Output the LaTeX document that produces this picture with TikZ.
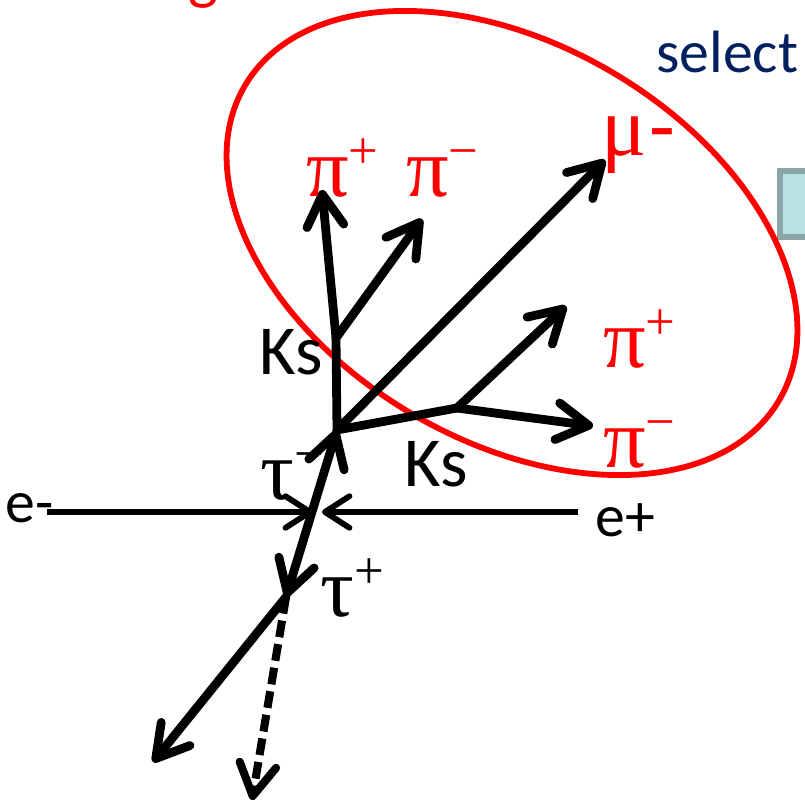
\documentclass[tikz,border=0pt]{standalone}
\usepackage{fontspec}
\setmainfont{Carlito}
\newfontfamily\grk{Liberation Serif}
\usepackage{tikz}
\usetikzlibrary{arrows.meta}
\definecolor{selblue}{HTML}{002060}
\definecolor{boxfill}{HTML}{BBE0E3}
\definecolor{boxline}{HTML}{8CA6A8}
\newcommand\chg[1]{\raisebox{16.5pt}{\fontsize{30}{30}\selectfont\grk #1}}

\begin{document}
\begin{tikzpicture}[x=0.02cm,y=-0.02cm,
  arr/.style={-{Straight Barb[length=18pt,width=21pt,round]}},
  trk/.style={line width=5pt,line cap=round},
  beam/.style={line width=3.3pt,-{Straight Barb[length=14pt,width=18pt,round]}},
  lbl/.style={inner sep=0,anchor=base west},
  grklbl/.style={lbl,red,font=\fontsize{48}{48}\selectfont\grk},
  kslbl/.style={lbl,font=\fontsize{40}{40}\selectfont},
  elbl/.style={lbl,font=\fontsize{34}{34}\selectfont}]
  \useasboundingbox (0,0) rectangle (805,803);
  \clip (0,0) rectangle (805,803);
  % slide pieces cut by the frame
  \node[lbl,red,font=\fontsize{36}{36}\selectfont] (sig) at (145,-2) {Signal side};
  \node[lbl,selblue,font=\fontsize{34}{34}\selectfont] (sel) at (656,73) {select};
  \draw[boxline,fill=boxfill,line width=3pt] (780,171) rectangle (840,237);
  \draw[red,line width=3.3pt,rotate around={-30.5:(512,243)}] (512,243) ellipse (310 and 198);
  % vertices and track ends
  \coordinate (vtx) at (337,430); \coordinate (wtx) at (286,597);
  \coordinate (ksa) at (336,338); \coordinate (ksb) at (457,408);
  \coordinate (pipa) at (322,190); \coordinate (pima) at (422,219);
  \coordinate (mu) at (605,160);
  \coordinate (pipb) at (566,306); \coordinate (pimb) at (593,426);
  \coordinate (dl) at (153,762); \coordinate (nu) at (252,800);
  \coordinate (em) at (47,512); \coordinate (ep) at (578,512);
  \coordinate (cem) at (313,512); \coordinate (cep) at (322,512);
  % beams
  \draw[beam] (em) -- (cem);
  \draw[beam] (ep) -- (cep);
  % tau pair
  \draw[trk,{Straight Barb[length=18pt,width=21pt,round]}-{Straight Barb[length=18pt,width=21pt,round]}] (wtx) -- (vtx);
  % signal side
  \draw[trk] (vtx) -- (ksa);
  \draw[trk] (vtx) -- (ksb);
  \draw[trk,arr] (vtx) -- (mu);
  \draw[trk,arr] (ksa) -- (pipa);
  \draw[trk,arr] (ksa) -- (pima);
  \draw[trk,arr] (ksb) -- (pipb);
  \draw[trk,arr] (ksb) -- (pimb);
  % tag side
  \draw[trk,arr] (wtx) -- (dl);
  \draw[trk,arr,line width=4.6pt,line cap=butt,dash pattern=on 9.6pt off 4pt] (wtx) -- (nu);
  % labels
  \node[grklbl] (lpipa) at (306,197) {π\chg{+}};
  \node[grklbl] (lpima) at (406,197) {π\chg{−}};
  \node[grklbl] (lmu) at (601,156) {μ\kern0.03em{\rmfamily-}};
  \node[grklbl] (lpipb) at (603,368) {π\chg{+}};
  \node[grklbl] (lpimb) at (603,468) {π\chg{−}};
  \node[grklbl,black] (ltaum) at (260,500) {τ\chg{−}};
  \node[grklbl,black] (ltaup) at (320,617) {τ\chg{+}};
  \node[kslbl] (lksa) at (259,375) {Ks};
  \node[kslbl] (lksb) at (404,487) {Ks};
  \node[elbl] (lem) at (5,523) {e-};
  \node[elbl] (lep) at (595,537) {e+};
\end{tikzpicture}
\end{document}
